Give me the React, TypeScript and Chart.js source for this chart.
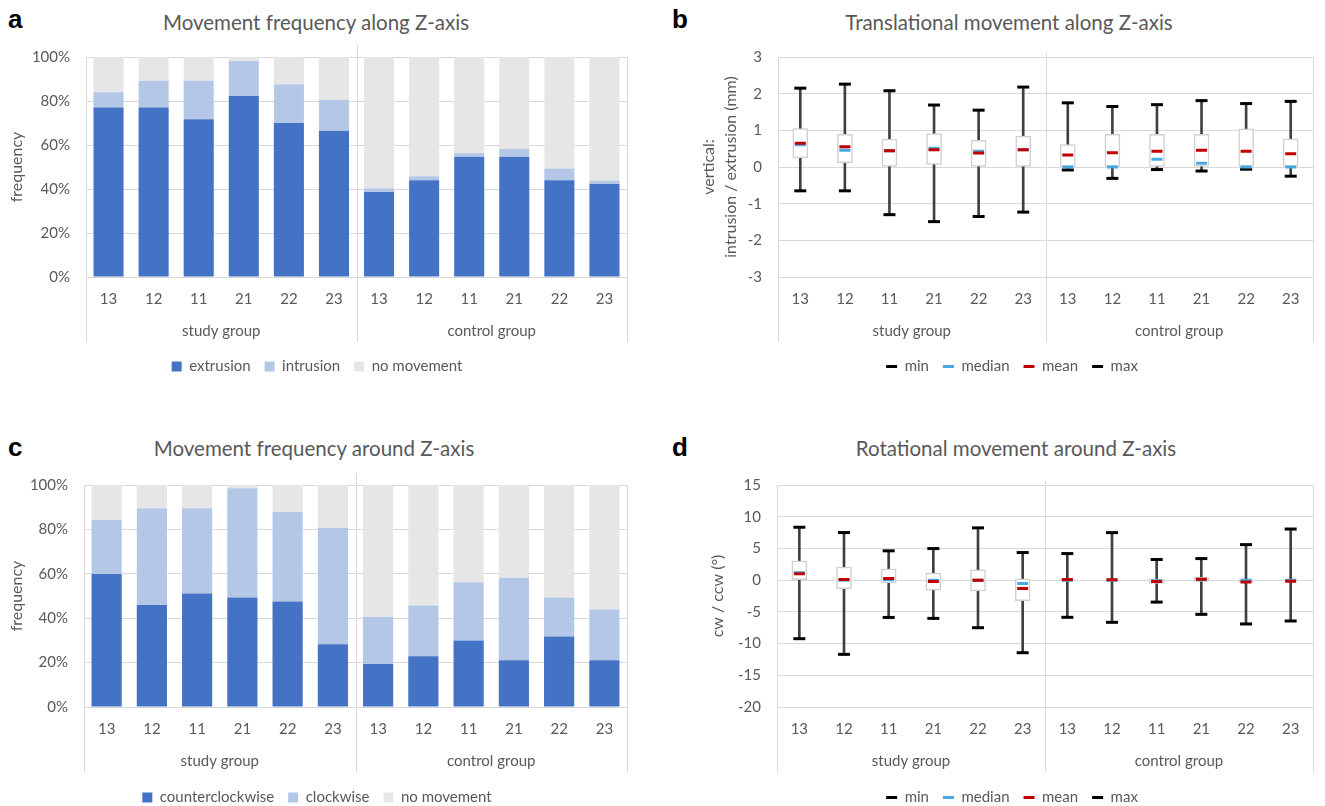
import React, { useEffect, useRef } from 'react';
import { Chart, registerables } from 'chart.js';
Chart.register(...registerables);

// ---------- data ----------
const TEETH = ['13', '12', '11', '21', '22', '23', '13', '12', '11', '21', '22', '23'];
const GROUPS = ['study group', 'control group'];

// panel a: movement frequency along Z-axis (%)
const A_EXTRUSION = [77, 77, 71.7, 82.3, 70, 66.5, 38.6, 44, 54.7, 54.7, 44, 42.3];
const A_INTRUSION = [7, 12.2, 17.5, 15.9, 17.6, 14, 1.7, 1.8, 1.6, 3.5, 5.3, 1.5];
const A_NO_MOVEMENT = [16, 10.8, 10.8, 1.8, 12.4, 19.5, 59.7, 54.2, 43.7, 41.8, 50.7, 56.2];

// panel c: movement frequency around Z-axis (%)
const C_CCW = [59.9, 45.9, 51.1, 49.3, 47.5, 28.3, 19.4, 22.9, 29.9, 21.1, 31.8, 21.1];
const C_CW = [24.3, 43.6, 38.4, 49.2, 40.3, 52.4, 21.1, 22.8, 26.3, 37.1, 17.5, 22.8];
const C_NO_MOVEMENT = [15.8, 10.5, 10.5, 1.5, 12.2, 19.3, 59.5, 54.3, 43.8, 41.8, 50.7, 56.1];

// panel b: translational movement along Z-axis (mm)
const B_MIN = [-0.65, -0.65, -1.3, -1.49, -1.35, -1.23, -0.08, -0.31, -0.07, -0.11, -0.06, -0.25];
const B_Q1 = [0.25, 0.12, 0, 0.07, 0, 0, 0, 0, 0, 0, 0, 0];
const B_MEDIAN = [0.61, 0.46, 0.44, 0.51, 0.43, 0.47, 0, 0, 0.21, 0.1, 0, 0];
const B_MEAN = [0.65, 0.55, 0.44, 0.47, 0.38, 0.47, 0.33, 0.39, 0.43, 0.46, 0.43, 0.36];
const B_Q3 = [1.05, 0.89, 0.76, 0.91, 0.73, 0.84, 0.61, 0.89, 0.89, 0.89, 1.04, 0.77];
const B_MAX = [2.15, 2.26, 2.08, 1.69, 1.55, 2.18, 1.75, 1.65, 1.7, 1.81, 1.73, 1.79];

// panel d: rotational movement around Z-axis (degrees)
const D_MIN = [-9.23, -11.7, -5.88, -6.03, -7.5, -11.44, -5.86, -6.65, -3.46, -5.39, -6.91, -6.44];
const D_Q1 = [0, -1.36, -0.42, -1.57, -1.68, -3.25, 0, 0, -0.5, -0.2, -0.3, -0.1];
const D_MEDIAN = [1.15, 0, 0.05, 0, 0, -0.52, 0, 0, -0.1, 0.05, 0, 0];
const D_MEAN = [1.0, 0.1, 0.26, -0.21, 0, -1.31, 0.1, 0.05, -0.21, 0.16, -0.31, -0.16];
const D_Q3 = [3.04, 2.05, 1.78, 1.1, 1.63, 0.21, 0.1, 0.1, 0.15, 0.5, 0.05, 0.05];
const D_MAX = [8.34, 7.5, 4.62, 4.98, 8.24, 4.35, 4.19, 7.49, 3.25, 3.4, 5.6, 8.06];

// ---------- style ----------
const FONT = 'Lato, "Open Sans", sans-serif';
const TEXT = '#595959';
const GRID = '#D9D9D9';
const DARK_BLUE = '#4472C4';
const LIGHT_BLUE = '#B4C7E7';
const GREY = '#E7E6E6';

Chart.defaults.font.family = FONT;

const groupAxisPlugin = {
  id: 'groupAxis',
  afterDraw(chart: any, _args: any, opts: any) {
    const { ctx, chartArea, scales } = chart;
    const x = scales.x;
    const groups: string[] = opts.groups || [];
    const n = chart.data.labels.length;
    const per = n / groups.length;
    const bounds: number[] = [];
    for (let g = 0; g <= groups.length; g++) {
      let px: number;
      if (g === 0) px = chartArea.left;
      else if (g === groups.length) px = chartArea.right;
      else px = (x.getPixelForValue(g * per - 1) + x.getPixelForValue(g * per)) / 2;
      bounds.push(px);
    }
    ctx.save();
    ctx.strokeStyle = GRID;
    ctx.lineWidth = 1;
    bounds.forEach((b, i) => {
      const edge = i === 0 || i === bounds.length - 1;
      const top = edge ? chartArea.top : chartArea.top - opts.topExt;
      const xx = Math.round(b) + 0.5;
      ctx.beginPath();
      ctx.moveTo(xx, top);
      ctx.lineTo(xx, chartArea.bottom + opts.bottomExt);
      ctx.stroke();
    });
    ctx.fillStyle = TEXT;
    ctx.font = `15px ${FONT}`;
    ctx.textAlign = 'center';
    ctx.textBaseline = 'middle';
    groups.forEach((g, i) => {
      ctx.fillText(g, (bounds[i] + bounds[i + 1]) / 2, chartArea.bottom + opts.labelOffset);
    });
    ctx.restore();
  },
};

type Frame = {
  pad: number;
  yWidth: number;
  xHeight: number;
  topExt: number;
  yTitle: string | string[];
  yTitlePad: number;
  yTitleLH: number;
};

function commonScales(f: Frame) {
  return {
    x: {
      grid: { display: false },
      border: { display: false },
      ticks: { color: TEXT, font: { family: FONT, size: 15 }, padding: 5, maxRotation: 0, autoSkip: false },
      afterFit: (s: any) => {
        s.height = f.xHeight;
      },
    },
    y: {
      grid: { color: GRID, drawTicks: false },
      border: { display: false },
      ticks: { color: TEXT, font: { family: FONT, size: 15 }, padding: 16 },
      title: {
        display: true,
        text: f.yTitle,
        color: TEXT,
        font: { family: FONT, size: 16, lineHeight: f.yTitleLH },
        padding: { top: f.yTitlePad, bottom: 0 },
      },
      afterFit: (s: any) => {
        s.width = f.yWidth;
      },
    },
  };
}

function stackedConfig(f: Frame, series: { label: string; data: number[]; color: string }[]) {
  const sc: any = commonScales(f);
  sc.x.stacked = true;
  sc.y.stacked = true;
  sc.y.min = 0;
  sc.y.max = 100;
  sc.y.ticks.stepSize = 20;
  sc.y.ticks.callback = (v: any) => v + '%';
  return {
    type: 'bar',
    data: {
      labels: TEETH,
      datasets: series.map((s) => ({
        label: s.label,
        data: s.data,
        backgroundColor: s.color,
        borderWidth: 0,
        categoryPercentage: 1,
        barPercentage: 0.667,
      })),
    },
    options: {
      responsive: false,
      animation: false,
      layout: { padding: { left: f.pad, right: f.pad, top: 0, bottom: 0 } },
      scales: sc,
      plugins: {
        legend: {
          position: 'bottom',
          labels: { boxWidth: 10, boxHeight: 10, padding: 14, color: TEXT, font: { family: FONT, size: 15 } },
        },
        tooltip: { enabled: false },
        groupAxis: { groups: GROUPS, topExt: f.topExt, bottomExt: 65, labelOffset: 54 },
      },
    },
    plugins: [groupAxisPlugin],
  };
}

function boxConfig(
  f: Frame,
  s: { min: number[]; q1: number[]; median: number[]; mean: number[]; q3: number[]; max: number[] },
  yMin: number,
  yMax: number,
  step: number
) {
  const sc: any = commonScales(f);
  sc.y.min = yMin;
  sc.y.max = yMax;
  sc.y.ticks.stepSize = step;
  const marker = (label: string, data: number[], color: string, r: number, order: number) => ({
    type: 'line',
    label,
    data,
    showLine: false,
    pointStyle: 'line',
    pointRadius: r,
    pointHoverRadius: r,
    pointBorderWidth: 3,
    pointBorderColor: color,
    pointBackgroundColor: color,
    borderColor: color,
    backgroundColor: color,
    borderWidth: 3,
    order,
  });
  return {
    type: 'bar',
    data: {
      labels: TEETH,
      datasets: [
        marker('min', s.min, '#000000', 6, 3),
        marker('median', s.median, '#4AA8E0', 5.5, 2),
        marker('mean', s.mean, '#C00000', 5.5, 1),
        marker('max', s.max, '#000000', 6, 3),
        {
          type: 'bar',
          label: 'box',
          data: s.q1.map((q, i) => [q, s.q3[i]]),
          backgroundColor: '#FFFFFF',
          borderColor: '#D0D0D0',
          borderWidth: 1.5,
          borderSkipped: false,
          barThickness: 15,
          grouped: false,
          order: 5,
        },
        {
          type: 'bar',
          label: 'range',
          data: s.min.map((m, i) => [m, s.max[i]]),
          backgroundColor: '#404040',
          borderWidth: 0,
          barThickness: 2,
          grouped: false,
          order: 6,
        },
      ],
    },
    options: {
      responsive: false,
      animation: false,
      layout: { padding: { left: f.pad, right: f.pad, top: 0, bottom: 0 } },
      scales: sc,
      plugins: {
        legend: {
          position: 'bottom',
          labels: {
            usePointStyle: true,
            pointStyleWidth: 11,
            padding: 14,
            color: TEXT,
            font: { family: FONT, size: 15 },
            filter: (item: any) => item.datasetIndex < 4,
            sort: (a: any, b: any) => a.datasetIndex - b.datasetIndex,
          },
        },
        tooltip: { enabled: false },
        groupAxis: { groups: GROUPS, topExt: f.topExt, bottomExt: 65, labelOffset: 54 },
      },
    },
    plugins: [groupAxisPlugin],
  };
}

function ChartCanvas(props: { left: number; top: number; width: number; height: number; make: () => any }) {
  const ref = useRef<HTMLCanvasElement>(null);
  useEffect(() => {
    const chart = new Chart(ref.current as HTMLCanvasElement, props.make());
    return () => chart.destroy();
  }, []);
  return (
    <canvas
      ref={ref}
      width={props.width}
      height={props.height}
      style={{ position: 'absolute', left: props.left, top: props.top, width: props.width, height: props.height }}
    />
  );
}

function Letter(props: { x: number; y: number; t: string }) {
  return (
    <div
      style={{
        position: 'absolute',
        left: props.x,
        top: props.y,
        fontFamily: '"Liberation Sans", Arial, sans-serif',
        fontWeight: 'bold',
        fontSize: 26,
        lineHeight: '26px',
        color: '#000',
      }}
    >
      {props.t}
    </div>
  );
}

function Title(props: { cx: number; cy: number; t: string; size: number }) {
  return (
    <div
      style={{
        position: 'absolute',
        left: props.cx - 300,
        width: 600,
        top: props.cy - 14,
        height: 28,
        lineHeight: '28px',
        textAlign: 'center',
        fontFamily: FONT,
        fontSize: props.size,
        color: TEXT,
        whiteSpace: 'nowrap',
      }}
    >
      {props.t}
    </div>
  );
}

export default function App() {
  return (
    <div
      style={{
        position: 'absolute',
        left: 0,
        top: 0,
        width: 1325,
        height: 806,
        overflow: 'hidden',
        background: '#FFFFFF',
      }}
    >
      <Letter x={8} y={6} t="a" />
      <Letter x={672} y={6} t="b" />
      <Letter x={8} y={434} t="c" />
      <Letter x={672} y={434} t="d" />
      <Title cx={316} cy={22} t="Movement frequency along Z-axis" size={20.5} />
      <Title cx={1009} cy={22} t="Translational movement along Z-axis" size={20.5} />
      <Title cx={314} cy={448} t="Movement frequency around Z-axis" size={20.5} />
      <Title cx={1016} cy={448} t="Rotational movement around Z-axis" size={20.5} />

      <ChartCanvas
        left={2}
        top={32}
        width={630}
        height={352}
        make={() =>
          stackedConfig(
            { pad: 5, yWidth: 79, xHeight: 68, topExt: 12, yTitle: 'frequency', yTitlePad: 0, yTitleLH: 1.2 },
            [
              { label: 'extrusion', data: A_EXTRUSION, color: DARK_BLUE },
              { label: 'intrusion', data: A_INTRUSION, color: LIGHT_BLUE },
              { label: 'no movement', data: A_NO_MOVEMENT, color: GREY },
            ]
          )
        }
      />
      <ChartCanvas
        left={702}
        top={32}
        width={620}
        height={352}
        make={() =>
          boxConfig(
            {
              pad: 0,
              yWidth: 76,
              xHeight: 68,
              topExt: 4,
              yTitle: ['vertical:', 'intrusion / extrusion (mm)'],
              yTitlePad: -4,
              yTitleLH: 1.375,
            },
            { min: B_MIN, q1: B_Q1, median: B_MEDIAN, mean: B_MEAN, q3: B_Q3, max: B_MAX },
            -3,
            3,
            1
          )
        }
      />
      <ChartCanvas
        left={2}
        top={460}
        width={630}
        height={355}
        make={() =>
          stackedConfig(
            { pad: 5, yWidth: 77, xHeight: 69, topExt: 12, yTitle: 'frequency', yTitlePad: 0, yTitleLH: 1.2 },
            [
              { label: 'counterclockwise', data: C_CCW, color: DARK_BLUE },
              { label: 'clockwise', data: C_CW, color: LIGHT_BLUE },
              { label: 'no movement', data: C_NO_MOVEMENT, color: GREY },
            ]
          )
        }
      />
      <ChartCanvas
        left={702}
        top={460}
        width={620}
        height={355}
        make={() =>
          boxConfig(
            { pad: 0, yWidth: 75, xHeight: 69, topExt: 4, yTitle: 'cw / ccw (°)', yTitlePad: 6.4, yTitleLH: 1.2 },
            { min: D_MIN, q1: D_Q1, median: D_MEDIAN, mean: D_MEAN, q3: D_Q3, max: D_MAX },
            -20,
            15,
            5
          )
        }
      />
    </div>
  );
}
